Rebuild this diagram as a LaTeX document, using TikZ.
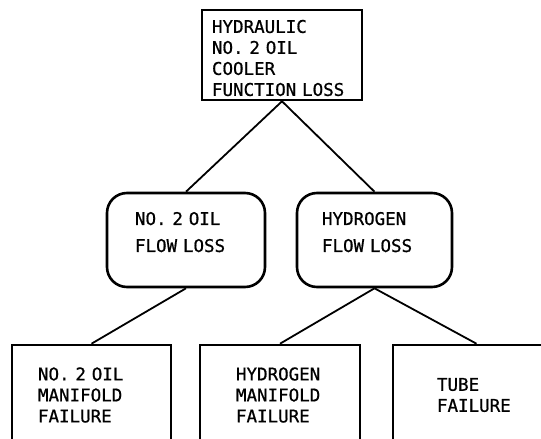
\documentclass[tikz,border=0pt]{standalone}
\usepackage{fontspec}
\newfontfamily\typefont{DejaVu Sans Mono}[FakeBold=0.8]
\newcommand\typeset[1]{\typefont\fontsize{17.5}{#1}\selectfont}
\begin{document}
\begin{tikzpicture}[
    x=1pt, y=-1pt,
    event/.style={draw, line width=2.6pt, align=left, inner ysep=0pt, font=\typeset{21}},
    mode/.style={event, rounded corners=20pt, font=\typeset{27}, minimum height=94pt, text depth=43pt},
    leaf/.style={event, minimum height=100pt},
    link/.style={line width=1.8pt},
]
\useasboundingbox (0,0) rectangle (541,439);

% Top event
\node[event, text width=140pt, inner xsep=10pt, minimum height=90pt, text height=19pt] (cooler) at (282,55) {HYDRAULIC\\NO. 2 OIL\\COOLER\\FUNCTION LOSS};

% Flow losses
\node[mode, text width=102pt, inner xsep=28pt] (oilflow) at (186,240) {NO. 2 OIL\\FLOW LOSS};
\node[mode, text width=105pt, inner xsep=25pt] (hflow) at (374.5,240) {HYDROGEN\\FLOW LOSS};

% Failures (cut off at the page edge)
\node[leaf, text width=107pt, inner xsep=26pt] (oilfail) at (91.5,395) {NO. 2 OIL\\MANIFOLD\\FAILURE};
\node[leaf, text width=88pt, inner xsep=36pt] (hfail) at (280,395) {HYDROGEN\\MANIFOLD\\FAILURE};
\node[leaf, text width=79pt, inner xsep=44pt] (tube) at (476.5,395) {TUBE\\FAILURE};

% Edges
\draw[link] (cooler.south) -- (oilflow.north);
\draw[link] (cooler.south) -- (hflow.north);
\draw[link] (oilflow.south) -- (oilfail.north);
\draw[link] (hflow.south) -- (hfail.north);
\draw[link] (hflow.south) -- (tube.north);

\end{tikzpicture}
\end{document}
